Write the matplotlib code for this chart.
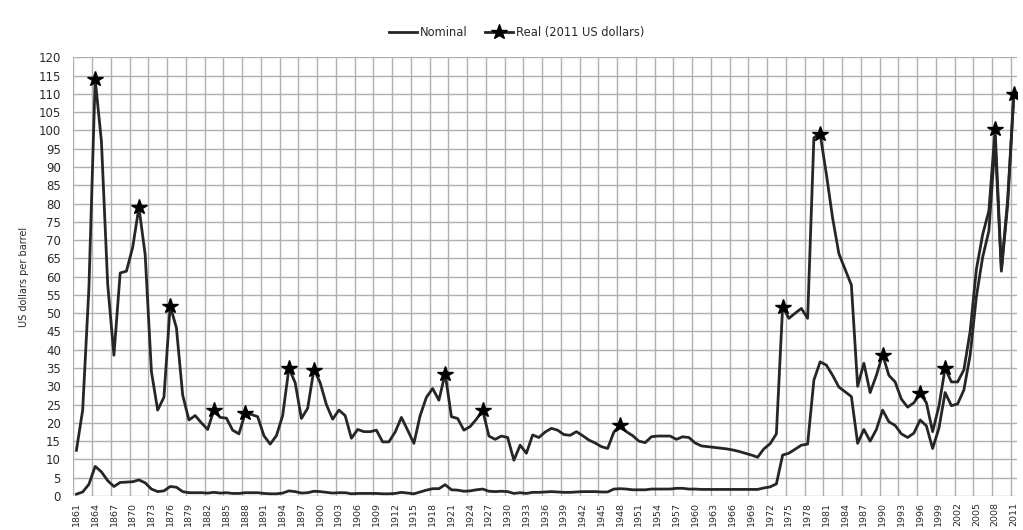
import numpy as np
import matplotlib
matplotlib.use('Agg')
import matplotlib.pyplot as plt

# crude oil prices, US dollars per barrel, 1861-2011
years = list(range(1861, 2012))

real_2011 = [
    12.5, 23.5, 57, 114, 97, 58, 38.5, 61, 61.5, 68,          # 1861-1870
    79, 66, 34, 23.5, 27, 52, 46, 27.6, 20.8, 22,             # 1871-1880
    20, 18.2, 23.5, 21.5, 21.3, 18, 17, 22.6, 22.3, 21.7,     # 1881-1890
    16.5, 14.2, 16.5, 22, 35, 31, 21.2, 24, 34.6, 31,         # 1891-1900
    25, 21, 23.5, 22, 15.8, 18.2, 17.6, 17.6, 18, 14.8,       # 1901-1910
    14.8, 17.5, 21.5, 18, 14.4, 22, 27, 29.4, 26.2, 33.5,     # 1911-1920
    21.7, 21.2, 18, 19, 21, 23.5, 16.4, 15.5, 16.4, 16,       # 1921-1930
    9.8, 13.9, 11.7, 16.7, 16, 17.5, 18.5, 18, 16.8, 16.6,    # 1931-1940
    17.6, 16.5, 15.3, 14.5, 13.5, 13, 17.5, 19.4, 17.6, 16.5, # 1941-1950
    15, 14.6, 16.2, 16.4, 16.4, 16.4, 15.5, 16.2, 16, 14.5,   # 1951-1960
    13.7, 13.5, 13.3, 13.1, 12.9, 12.6, 12.2, 11.7, 11.2, 10.6,  # 1961-1970
    12.9, 14.3, 17, 51.8, 48.6, 50, 51.3, 48.6, 98, 99.1,     # 1971-1980
    88, 76, 66.3, 62, 57.7, 30, 36.3, 28.3, 33, 38.7,         # 1981-1990
    33, 31.2, 26.5, 24.3, 25.5, 28.1, 25.5, 17.6, 24.5, 35,   # 1991-2000
    31.2, 31.2, 34.5, 45, 62, 71.5, 78, 100.3, 62, 81,        # 2001-2010
    110,                                                      # 2011
]

nominal = [
    0.5, 1.1, 3.2, 8.1, 6.6, 4.2, 2.6, 3.7, 3.8, 3.9,
    4.4, 3.6, 1.9, 1.2, 1.4, 2.6, 2.4, 1.2, 0.9, 0.9,
    0.9, 0.8, 1.0, 0.8, 0.9, 0.7, 0.7, 0.9, 0.9, 0.9,
    0.7, 0.6, 0.6, 0.8, 1.4, 1.2, 0.8, 0.9, 1.3, 1.2,
    1.0, 0.8, 0.9, 0.9, 0.6, 0.7, 0.7, 0.7, 0.7, 0.6,
    0.6, 0.7, 1.0, 0.8, 0.6, 1.1, 1.6, 2.0, 2.0, 3.1,
    1.7, 1.6, 1.3, 1.4, 1.7, 1.9, 1.3, 1.2, 1.3, 1.2,
    0.7, 0.9, 0.7, 1.0, 1.0, 1.1, 1.2, 1.1, 1.0, 1.0,
    1.1, 1.2, 1.2, 1.2, 1.1, 1.1, 1.9, 2.0, 1.9, 1.7,
    1.7, 1.7, 1.9, 1.9, 1.9, 1.9, 2.1, 2.1, 1.9, 1.9,
    1.8, 1.8, 1.8, 1.8, 1.8, 1.8, 1.8, 1.8, 1.8, 1.8,
    2.2, 2.5, 3.3, 11.2, 11.7, 12.8, 13.9, 14.2, 31.7, 36.7,
    35.8, 33, 29.8, 28.5, 27.2, 14.4, 18.2, 15.0, 18.2, 23.5,
    20.3, 19.3, 17.0, 16.0, 17.2, 20.8, 19.2, 13.0, 18.5, 28.3,
    24.7, 25.2, 29.0, 38.5, 54.5, 65.3, 72.5, 97, 61.5, 79.5,
    110,
]

# years that carry a star marker on the real series
star_years = [1864, 1871, 1876, 1883, 1888, 1895, 1899, 1920, 1926, 1948,
              1974, 1980, 1990, 1996, 2000, 2008, 2011]

assert len(years) == len(real_2011) == len(nominal)

W, H = 1023, 530
fig = plt.figure(figsize=(W / 100, H / 100), dpi=100)
ax = fig.add_axes([73.3 / W, 1 - 496 / H, (1017 - 73.3) / W, (496 - 57.3) / H])

line_col = '#262626'
ax.plot(years, nominal, color=line_col, lw=2.0, label='Nominal', zorder=3)
marks = [i for i, y in enumerate(years) if y in star_years]
ax.plot(years, real_2011, color=line_col, lw=2.0, marker='*', markevery=marks,
        markersize=11.5, markerfacecolor='black', markeredgecolor='black',
        label='Real (2011 US dollars)', zorder=4)

ax.set_xlim(1860.5, 2011.5)
ax.set_ylim(0, 120)
ax.set_yticks(range(0, 121, 5))
ax.set_xticks(years[::3])
ax.set_xticklabels([str(y) for y in years[::3]], rotation=90)
ax.set_xticks(np.arange(1860.5, 2011, 3), minor=True)

ax.grid(which='minor', axis='x', color='#b0b0b0', lw=1.0)
ax.grid(which='major', axis='y', color='#b0b0b0', lw=1.0)
ax.set_axisbelow(True)
for s in ax.spines.values():
    s.set_visible(False)

ax.tick_params(axis='y', length=0, pad=9, labelsize=8.5, labelcolor='#2a2a2a')
ax.tick_params(axis='x', which='both', length=0, pad=4, labelsize=6.8,
               labelcolor='#2a2a2a')

ax.set_ylabel('US dollars per barrel', fontsize=7, color='#2a2a2a', labelpad=7)

fig.legend(loc='center', bbox_to_anchor=(0.505, 0.938), ncol=2, frameon=False,
           fontsize=8.3, handlelength=2.4, columnspacing=1.5, handletextpad=0.3,
           labelcolor='#2a2a2a')

fig.savefig('out.png', dpi=100)
